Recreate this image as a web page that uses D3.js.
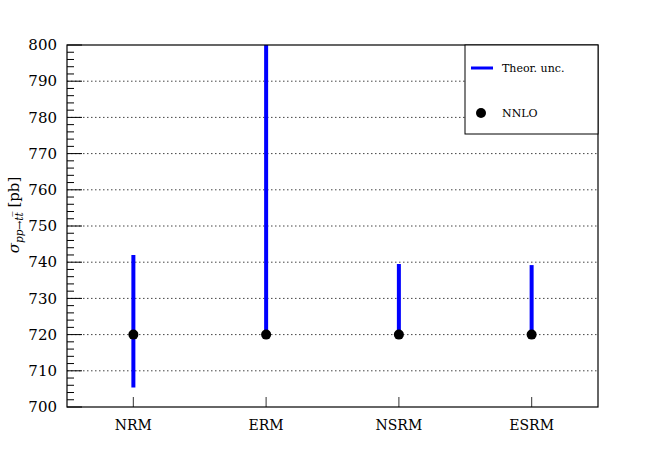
<!DOCTYPE html>
<html><head><meta charset="utf-8">
<script src="https://cdn.jsdelivr.net/npm/d3@7"></script>
<style>body{margin:0;background:#fff}svg{display:block}</style>
</head><body><svg id="c" width="665" height="453" font-family="'DejaVu Serif', serif"></svg>
<script>
const categories = ["NRM", "ERM", "NSRM", "ESRM"];
const central = [720, 720, 720, 720];
const lower = [705.4, 720, 720, 720];
const upper = [742, 802, 739.5, 739.2];
const yTicks = [700, 710, 720, 730, 740, 750, 760, 770, 780, 790, 800];
const gridTicks = [710, 720, 730, 740, 750, 760, 770, 780, 790];

const W = 665, H = 453;
const m = {l: 67, r: 598, t: 45, b: 407};
const svg = d3.select("#c");
const x = d3.scaleBand().domain(categories).range([m.l, m.r]);
const y = d3.scaleLinear().domain([700, 800]).range([m.b, m.t]);

svg.append("defs").append("clipPath").attr("id", "clip")
  .append("rect").attr("x", m.l).attr("y", m.t).attr("width", m.r - m.l).attr("height", m.b - m.t);

svg.append("g").selectAll("line").data(gridTicks).join("line")
  .attr("x1", m.l).attr("x2", m.r).attr("y1", d => y(d)).attr("y2", d => y(d))
  .attr("stroke", "#444").attr("stroke-width", 1).attr("stroke-dasharray", "1.5,2.5");

const minor = d3.range(700, 800.01, 2).filter(v => v % 10 !== 0);
svg.append("g").selectAll("line").data(minor).join("line")
  .attr("x1", m.l).attr("x2", m.l + 7).attr("y1", d => y(d)).attr("y2", d => y(d))
  .attr("stroke", "#000").attr("stroke-width", 1);
svg.append("g").selectAll("line").data(yTicks).join("line")
  .attr("x1", m.l).attr("x2", m.l + 15).attr("y1", d => y(d)).attr("y2", d => y(d))
  .attr("stroke", "#000").attr("stroke-width", 1);
svg.append("g").selectAll("text").data(yTicks).join("text")
  .attr("x", m.l - 10).attr("y", d => y(d)).attr("dy", "0.35em")
  .attr("text-anchor", "end").attr("font-size", 15).attr("fill", "#000").text(d => d);

const xc = d => x(d) + x.bandwidth() / 2;
svg.append("g").selectAll("line").data(categories).join("line")
  .attr("x1", xc).attr("x2", xc).attr("y1", m.b).attr("y2", m.b - 10)
  .attr("stroke", "#555").attr("stroke-width", 1.2);
svg.append("g").selectAll("text").data(categories).join("text")
  .attr("x", xc).attr("y", m.b + 23).attr("text-anchor", "middle")
  .attr("font-size", 14).attr("fill", "#000").text(d => d);

const g = svg.append("g").attr("clip-path", "url(#clip)");
g.selectAll("line").data(categories).join("line")
  .attr("x1", xc).attr("x2", xc)
  .attr("y1", (d, i) => y(lower[i])).attr("y2", (d, i) => y(upper[i]))
  .attr("stroke", "#0000ff").attr("stroke-width", 4);

svg.append("rect").attr("x", m.l).attr("y", m.t).attr("width", m.r - m.l).attr("height", m.b - m.t)
  .attr("fill", "none").attr("stroke", "#000").attr("stroke-width", 1.2);

svg.append("g").selectAll("circle").data(categories).join("circle")
  .attr("cx", xc).attr("cy", (d, i) => y(central[i])).attr("r", 5).attr("fill", "#000");

const lg = svg.append("g");
lg.append("rect").attr("x", 465).attr("y", m.t).attr("width", m.r - 465).attr("height", 89)
  .attr("fill", "#fff").attr("stroke", "#000").attr("stroke-width", 1);
lg.append("line").attr("x1", 471).attr("x2", 493).attr("y1", 68).attr("y2", 68)
  .attr("stroke", "#0000ff").attr("stroke-width", 3);
lg.append("text").attr("x", 502).attr("y", 68).attr("dy", "0.35em").attr("font-size", 11).text("Theor. unc.");
lg.append("circle").attr("cx", 481).attr("cy", 113).attr("r", 5).attr("fill", "#000");
lg.append("text").attr("x", 502).attr("y", 113).attr("dy", "0.35em").attr("font-size", 11).text("NNLO");

const yl = svg.append("text").attr("transform", "translate(19,215) rotate(-90)")
  .attr("text-anchor", "middle").attr("font-size", 15).attr("fill", "#000");
yl.append("tspan").attr("font-style", "italic").text("σ");
yl.append("tspan").attr("font-style", "italic").attr("font-size", 10.5).attr("dy", 4).text("pp→tt\u0305");
yl.append("tspan").attr("dy", -4).text(" [pb]");
</script></body></html>
